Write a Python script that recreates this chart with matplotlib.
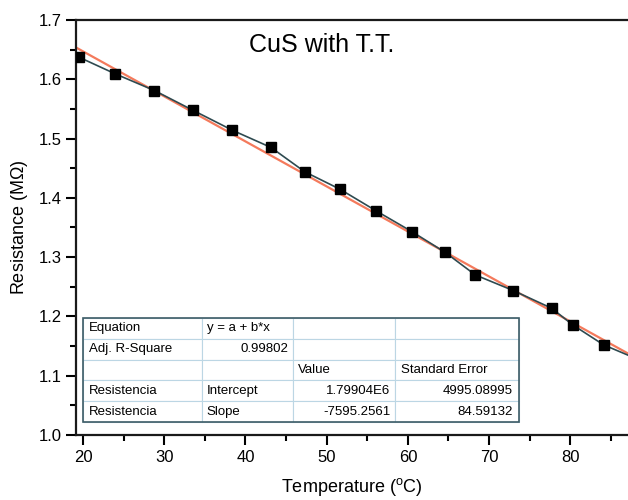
import numpy as np
import matplotlib.pyplot as plt
from matplotlib.patches import Rectangle

plt.rcParams['font.family'] = ['Liberation Sans', 'DejaVu Sans']
plt.rcParams['mathtext.fontset'] = 'custom'
plt.rcParams['mathtext.rm'] = 'Liberation Sans'

# measured resistance vs temperature
temp = [19.55, 24.0, 28.8, 33.5, 38.4, 43.15, 47.3, 51.65, 56.1, 60.5,
        64.6, 68.3, 73.0, 77.7, 80.3, 84.1, 88.6]
resist = [1.637, 1.609, 1.581, 1.548, 1.514, 1.485, 1.444, 1.4145, 1.378, 1.343,
          1.308, 1.270, 1.2435, 1.2138, 1.1857, 1.152, 1.126]

# linear fit results (ohm)
intercept = 1.79904e6
slope = -7595.2561

table_rows = [
    ['Equation', 'y = a + b*x', '', ''],
    ['Adj. R-Square', '0.99802', '', ''],
    ['', '', 'Value', 'Standard Error'],
    ['Resistencia', 'Intercept', '1.79904E6', '4995.08995'],
    ['Resistencia', 'Slope', '-7595.2561', '84.59132'],
]
right_cells = [(1, 1), (3, 2), (3, 3), (4, 2), (4, 3)]

fig = plt.figure(figsize=(6.28, 5), dpi=100)
ax = fig.add_axes([0.121, 0.13, 0.879, 0.83])

xfit = np.linspace(18, 90, 50)
yfit = (intercept + slope * xfit) / 1e6
ax.plot(temp, resist, color='#2e4a50', lw=1.2, marker='s', ms=6.5,
        mfc='black', mec='black', zorder=3)
ax.plot(xfit, yfit, color='#f47a5c', lw=1.6, zorder=2)

ax.set_xlim(19.14, 87.1)
ax.set_ylim(1.0, 1.7)
ax.set_xticks([20, 30, 40, 50, 60, 70, 80])
ax.set_xticks(np.arange(25, 90, 10), minor=True)
ax.set_yticks([1.0, 1.1, 1.2, 1.3, 1.4, 1.5, 1.6, 1.7])
ax.set_yticks(np.arange(1.05, 1.7, 0.1), minor=True)
ax.tick_params(which='major', direction='out', length=7, width=1.5, labelsize=12)
ax.tick_params(which='minor', direction='out', length=4, width=1.5)
ax.tick_params(top=False, right=False)
for side in ['left', 'bottom', 'top']:
    ax.spines[side].set_linewidth(1.6)
    ax.spines[side].set_color('#1a1a1a')
ax.spines['right'].set_visible(False)

ax.set_xlabel(r'Temperature ($^{\rm o}$C)', fontsize=13, labelpad=8)
ax.set_ylabel(r'Resistance (M$\Omega$)', fontsize=13, labelpad=6)
ax.text(0.445, 0.94, 'CuS with T.T.', transform=ax.transAxes,
        fontsize=18, ha='center', va='center')

tbl_box = [0.0127, 0.0313, 0.79, 0.2506]
tbl = ax.table(cellText=table_rows, colWidths=[0.273, 0.209, 0.234, 0.284],
               cellLoc='left', bbox=tbl_box, zorder=4)
tbl.auto_set_font_size(False)
tbl.set_fontsize(9.5)
for (r, c), cell in tbl.get_celld().items():
    cell.set_edgecolor('#bcd6e4')
    cell.set_linewidth(0.8)
    cell.set_facecolor('white')
    cell.PAD = 0.05
    if (r, c) in right_cells:
        cell._loc = 'right'
        cell._text.set_ha('right')
ax.add_patch(Rectangle((tbl_box[0], tbl_box[1]), tbl_box[2], tbl_box[3],
                       transform=ax.transAxes, fill=False, ec='#3d5c66',
                       lw=1.2, zorder=5))

fig.savefig('out.png', dpi=100)
